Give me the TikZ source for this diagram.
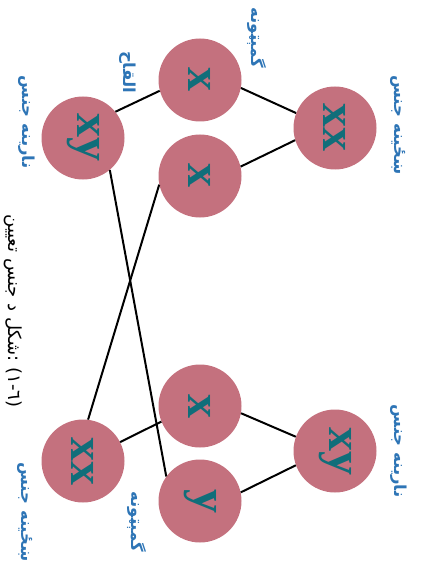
\documentclass[tikz,border=0pt]{standalone}
\usepackage{fontspec}
\usepackage{tikz}
\usepackage{xcolor}
\TeXXeTstate=1
\newfontfamily\arabicfont[Script=Arabic]{DejaVu Sans}
\newfontfamily\genefont{Liberation Serif}
\definecolor{cellpink}{RGB}{196,113,126}
\definecolor{geneteal}{RGB}{16,110,122}
\definecolor{lblblue}{RGB}{46,117,182}
\tikzstyle{cell} = [circle, minimum size=83pt, inner sep=0pt, fill=cellpink, text=geneteal, font=\genefont\bfseries\fontsize{48}{48}\selectfont]
\tikzstyle{lbl} = [rotate=-90, inner sep=0pt, text=lblblue, font=\arabicfont\bfseries\fontsize{16.5}{20}\selectfont]
\tikzstyle{capt} = [rotate=-90, inner sep=0pt, text=black, font=\arabicfont\fontsize{18}{22}\selectfont]
\tikzstyle{link} = [line width=2pt, black]

\begin{document}
\begin{tikzpicture}[x=1pt, y=-1pt]
\useasboundingbox (0,0) rectangle (421,564);
% parents and gametes, first cross
\node (femaleA) [cell] at (335,128) {\rotatebox{-90}{xx}};
\node (maleA) [cell] at (83,138) {\rotatebox{-90}{xy}};
\node (gamA) [cell] at (200,80) {\rotatebox{-90}{x}};
\node (gamB) [cell] at (200,176) {\rotatebox{-90}{x}};
% second cross
\node (maleB) [cell] at (335,451) {\rotatebox{-90}{xy}};
\node (femaleB) [cell] at (83,461) {\rotatebox{-90}{xx}};
\node (gamC) [cell] at (200,406) {\rotatebox{-90}{x}};
\node (gamD) [cell] at (200,501) {\rotatebox{-90}{y}};
% labels
\node (lblFemaleA) [lbl] at (398,125) {\arabicfont\beginR ښځینه جنس\endR};
\node (lblMaleA) [lbl] at (27,122) {\arabicfont\beginR نارینه جنس\endR};
\node (lblGamA) [lbl] at (257,38) {\arabicfont\beginR گمېټونه\endR};
\node (lblFert) [lbl] at (128,72) {\arabicfont\beginR القاح\endR};
\node (lblMaleB) [lbl] at (399,451) {\arabicfont\beginR نارینه جنس\endR};
\node (lblFemaleB) [lbl] at (25,512) {\arabicfont\beginR ښځینه جنس\endR};
\node (lblGamB) [lbl] at (137,522) {\arabicfont\beginR گمېټونه\endR};
\node (caption) [capt] at (13,311) {\arabicfont\beginR\beginL(٦-١)\endL{} :شکل د جنس تعیین\endR};
% connectors
\draw [link] (femaleA.159) -- (gamA.-11);
\draw [link] (femaleA.197) -- (gamB.13);
\draw [link] (maleA.39) -- (gamA.195);
\draw [link] (maleA.-50) -- (gamD.144);
\draw [link] (femaleB.83) -- (gamB.192);
\draw [link] (femaleB.27) -- (gamC.202);
\draw [link] (maleB.160) -- (gamC.-10);
\draw [link] (maleB.200) -- (gamD.12);
\end{tikzpicture}
\end{document}
